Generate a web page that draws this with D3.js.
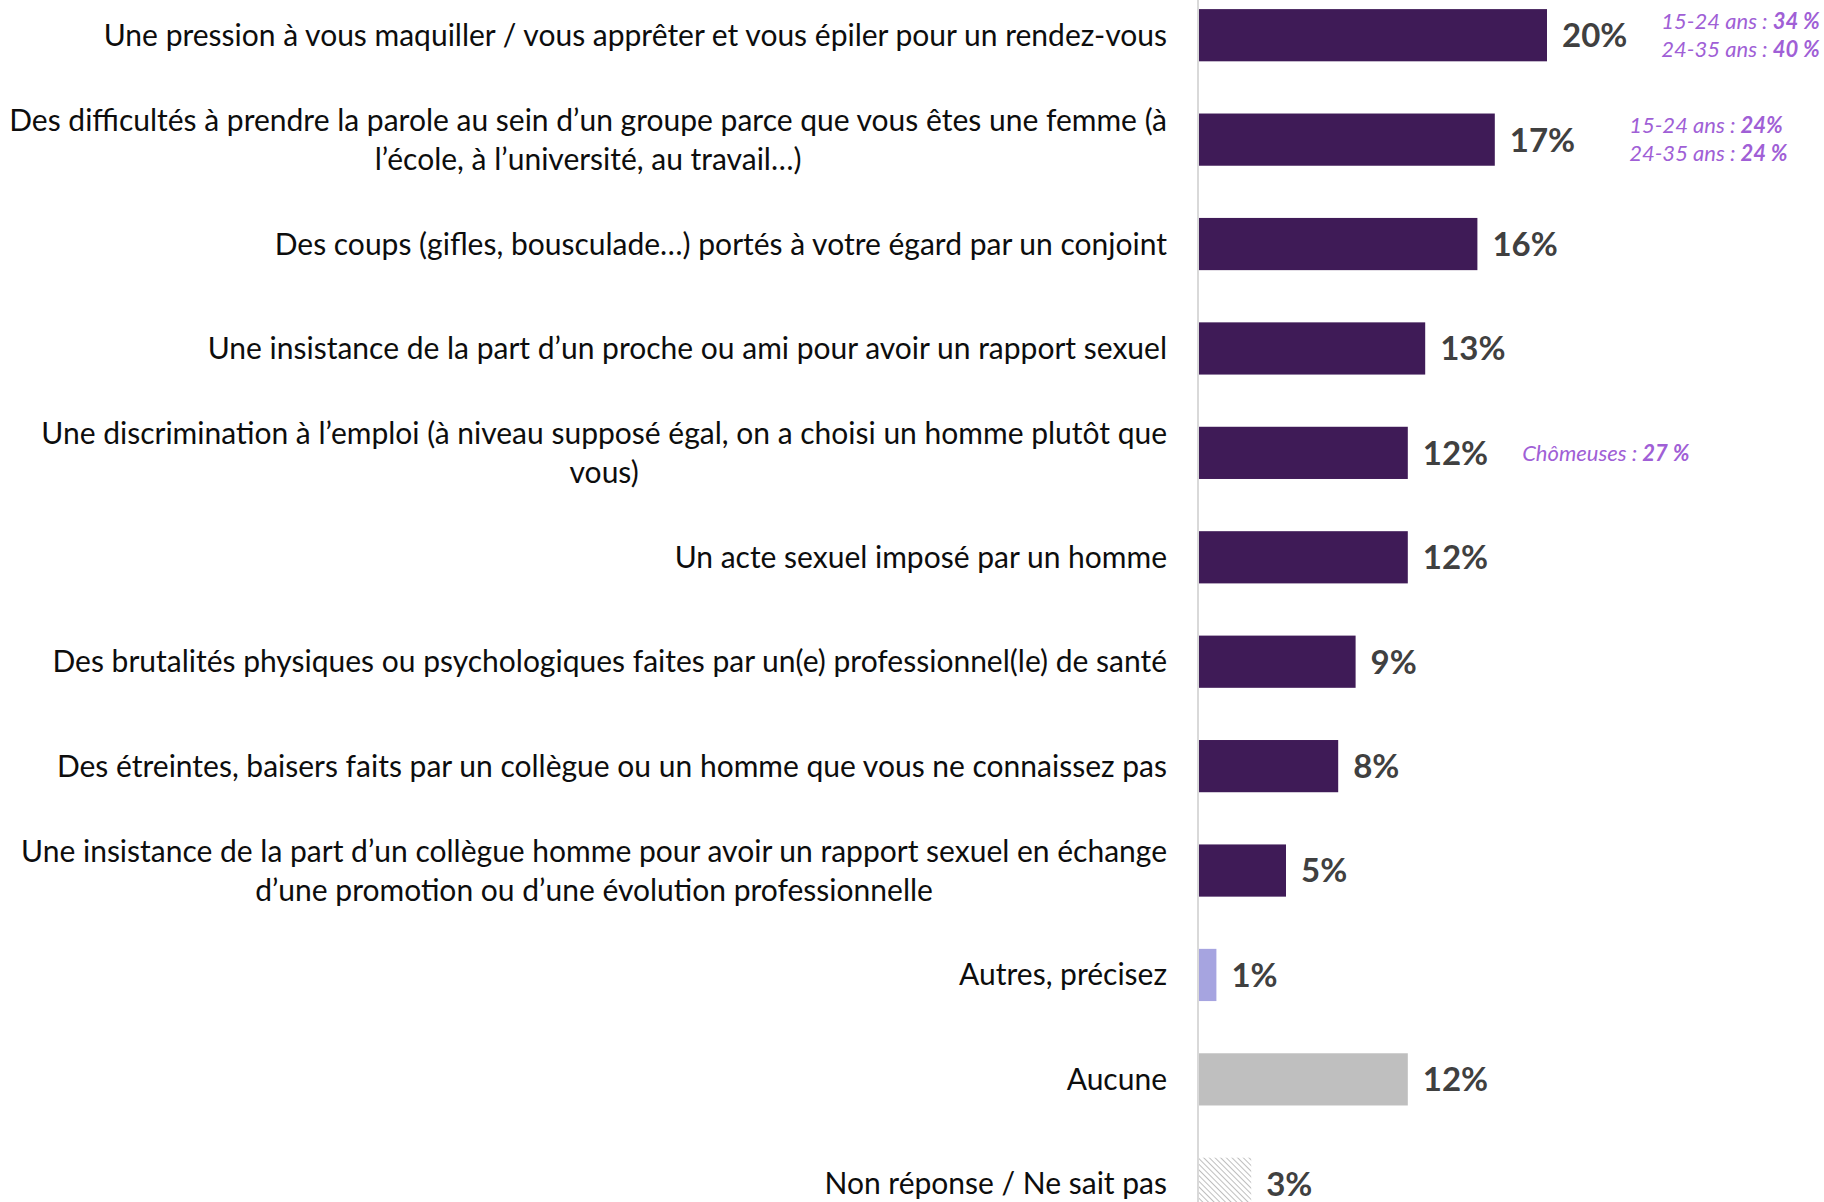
<!DOCTYPE html>
<html>
<head>
<meta charset="utf-8">
<script src="https://cdn.jsdelivr.net/npm/d3@7"></script>
<style>
  body { margin: 0; background: #fff; }
  text { font-family: Lato, "Open Sans", sans-serif; }
</style>
</head>
<body>
<div id="chart"></div>
<script>
// categories (line breaks as in the source slide)
var categories = [
  "Une pression à vous maquiller / vous apprêter et vous épiler pour un rendez-vous",
  "Des difficultés à prendre la parole au sein d’un groupe parce que vous êtes une femme (à\nl’école, à l’université, au travail…)",
  "Des coups (gifles, bousculade…) portés à votre égard par un conjoint",
  "Une insistance de la part d’un proche ou ami pour avoir un rapport sexuel",
  "Une discrimination à l’emploi (à niveau supposé égal, on a choisi un homme plutôt que\nvous)",
  "Un acte sexuel imposé par un homme",
  "Des brutalités physiques ou psychologiques faites par un(e) professionnel(le) de santé",
  "Des étreintes, baisers faits par un collègue ou un homme que vous ne connaissez pas",
  "Une insistance de la part d’un collègue homme pour avoir un rapport sexuel en échange\nd’une promotion ou d’une évolution professionnelle",
  "Autres, précisez",
  "Aucune",
  "Non réponse / Ne sait pas"
]
var values = [20, 17, 16, 13, 12, 12, 9, 8, 5, 1, 12, 3]
var kinds = ["main","main","main","main","main","main","main","main","main","other","none","nr"]

// sub-group callouts: [row, [label, value] lines]
var notes = [
  [0, [["15-24 ans : ", "34 %"], ["24-35 ans : ", "40 %"]]],
  [1, [["15-24 ans : ", "24%"], ["24-35 ans : ", "24 %"]]],
  [4, [["Chômeuses : ", "27 %"]]]
]

var W = 1824, H = 1202
var colors = { main: "#3f1b57", other: "#a6a4e0", none: "#bfbfbf", nr: "url(#hatch)" }

var svg = d3.select("#chart").append("svg")
  .attr("width", W)
  .attr("height", H)

var defs = svg.append("defs")
var pat = defs.append("pattern")
  .attr("id", "hatch")
  .attr("patternUnits", "userSpaceOnUse")
  .attr("width", 4)
  .attr("height", 4)
  .attr("patternTransform", "rotate(-45)")
pat.append("rect").attr("width", 4).attr("height", 4).attr("fill", "#fff")
pat.append("line")
  .attr("x1", 0).attr("y1", 0).attr("x2", 0).attr("y2", 4)
  .attr("stroke", "#b8b8b8").attr("stroke-width", 1.8)

var x = d3.scaleLinear()
  .domain([0, 20])
  .range([1199, 1547])

var y = d3.scaleBand()
  .domain(d3.range(categories.length))
  .range([-17, 1236])
  .paddingInner(0.5)
  .paddingOuter(0.25)

// vertical axis line
svg.append("line")
  .attr("x1", x(0) - 1).attr("x2", x(0) - 1)
  .attr("y1", 0).attr("y2", H)
  .attr("stroke", "#d9d9d9")
  .attr("stroke-width", 2)

// bars
svg.selectAll("rect.bar")
  .data(values)
  .enter()
  .append("rect")
  .attr("class", "bar")
  .attr("x", x(0))
  .attr("y", function(d, i) { return y(i) })
  .attr("width", function(d) { return x(d) - x(0) })
  .attr("height", y.bandwidth())
  .attr("fill", function(d, i) { return colors[kinds[i]] })

// value labels
var valLabels = svg.selectAll("text.val")
  .data(values)
  .enter()
  .append("text")
  .attr("class", "val")
  .attr("x", function(d) { return x(d) + 15 })
  .attr("y", function(d, i) { return y(i) + y.bandwidth() / 2 })
  .attr("dy", "0.36em")
  .attr("font-size", 33)
  .attr("font-weight", 700)
  .attr("fill", "#404040")
  .text(function(d) { return d + "%" })

// category labels, right edge near 1167, multi-line blocks centred
var labelRight = x(0) - 32
var lineH = 39
categories.forEach(function(c, i) {
  var lines = c.split("\n")
  var g = svg.append("g")
  var cy = y(i) + y.bandwidth() / 2
  var ts = lines.map(function(l, k) {
    return g.append("text")
      .attr("y", cy + (k - (lines.length - 1) / 2) * lineH)
      .attr("dy", "0.35em")
      .attr("font-size", 30)
      .attr("fill", "#0d0d0d")
      .text(l)
  })
  var maxW = d3.max(ts, function(t) { return t.node().getComputedTextLength() })
  ts.forEach(function(t) {
    t.attr("x", labelRight - maxW / 2).attr("text-anchor", "middle")
  })
})

// sub-group callouts
notes.forEach(function(n) {
  var row = n[0], lines = n[1]
  var lbl = valLabels.filter(function(d, i) { return i === row }).node()
  var bb = lbl.getBBox()
  var x0 = bb.x + bb.width + (row === 1 ? 54 : 34)
  var cy = y(row) + y.bandwidth() / 2
  lines.forEach(function(l, k) {
    var t = svg.append("text")
      .attr("x", x0)
      .attr("y", cy + (k - (lines.length - 1) / 2) * 28)
      .attr("dy", "0.35em")
      .attr("font-size", 22)
      .attr("font-style", "italic")
      .attr("fill", "#a05fd6")
    t.append("tspan").text(l[0])
    t.append("tspan").attr("font-weight", 700).text(l[1])
  })
})
</script>
</body>
</html>
